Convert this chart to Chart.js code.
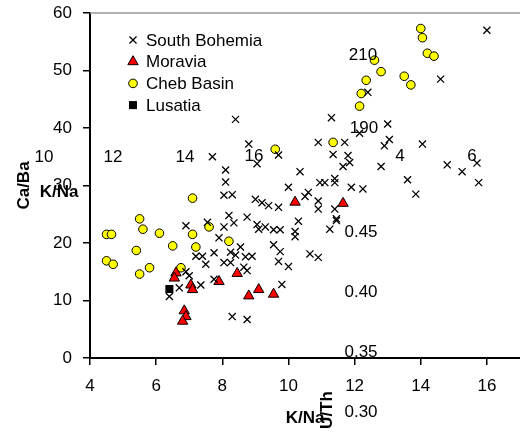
<!DOCTYPE html>
<html>
<head>
<meta charset="utf-8">
<script src="https://cdn.jsdelivr.net/npm/chart.js@4/dist/chart.umd.min.js"></script>
<style>
  body { margin: 0; background: #fff; }
  canvas { display: block; }
</style>
</head>
<body>
<canvas id="chart" width="520" height="436"></canvas>
<script>
// K/Na vs Ca/Ba, groundwater groups
const seriesNames = ['South Bohemia', 'Moravia', 'Cheb Basin', 'Lusatia'];

const southBohemiaKNa = [16.0, 14.6, 12.4, 11.3, 8.4, 13.0, 12.15, 13.05, 12.9, 10.9, 11.7, 14.05, 8.8, 11.35, 11.8, 9.7, 7.7, 11.85, 11.65, 12.8,
  14.8, 15.25, 15.7, 15.75, 13.85, 13.6, 10.35, 9.05, 8.1, 8.1, 10.0, 10.95, 11.1, 11.4, 11.4, 11.9, 12.25, 10.6, 10.5, 10.9,
  10.9, 11.4, 8.05, 8.3, 9.0, 9.2, 9.4, 9.7, 8.2, 8.35, 6.9, 7.55, 8.05, 8.75, 9.05, 9.1, 9.3, 9.55, 9.75, 10.3,
  10.2, 10.2, 11.25, 11.45, 11.45, 7.9, 9.55, 9.75, 9.7, 10.0, 10.65, 10.9, 8.55, 8.25, 8.4, 8.7, 8.9, 7.75, 7.2, 7.4,
  7.5, 8.05, 8.25, 8.65, 8.75, 6.9, 7.0, 7.75, 7.35, 6.7, 6.4, 9.8, 8.3, 8.75];
const southBohemiaCaBa = [57.0, 48.5, 46.2, 41.8, 41.5, 40.7, 39.1, 38.0, 36.9, 37.5, 37.5, 37.2, 37.2, 35.4, 35.2, 35.3, 35.0, 34.0, 33.3, 33.3,
  33.6, 32.4, 33.9, 30.5, 28.5, 31.0, 32.4, 33.8, 32.7, 30.6, 29.7, 30.5, 30.5, 30.5, 31.2, 29.7, 29.4, 28.8, 28.1, 27.3,
  25.9, 25.9, 28.3, 28.4, 27.6, 27.0, 26.5, 26.2, 24.8, 23.5, 23.0, 23.6, 22.8, 24.5, 23.2, 22.4, 22.8, 22.3, 22.3, 23.8,
  22.0, 21.1, 22.4, 24.2, 23.9, 20.9, 19.7, 18.5, 16.8, 15.9, 18.1, 17.5, 19.3, 18.4, 17.9, 17.6, 17.7, 18.3, 17.7, 17.7,
  16.3, 16.6, 16.6, 15.8, 15.2, 15.0, 14.3, 13.7, 12.7, 12.2, 10.7, 12.8, 7.2, 6.7];

const moraviaKNa = [6.6, 6.55, 7.05, 7.1, 7.9, 8.45, 8.8, 9.1, 9.55, 6.85, 6.9, 6.8, 10.2, 11.65];
const moraviaCaBa = [14.8, 13.9, 12.7, 11.9, 13.3, 14.7, 10.8, 11.9, 11.1, 8.2, 7.2, 6.4, 27.1, 26.9];

const chebKNa = [4.5, 4.7, 4.5, 4.65, 5.5, 5.6, 5.4, 5.5, 5.8, 6.1, 6.5, 6.75, 7.1, 7.2, 7.6, 8.2, 7.1, 9.6, 11.35,
  12.6, 12.8, 12.35, 12.2, 12.15, 13.5, 13.7, 14.0, 14.05, 14.2, 14.4];
const chebCaBa = [16.9, 16.3, 21.5, 21.5, 24.2, 22.4, 18.7, 14.6, 15.7, 21.7, 19.5, 15.7, 21.5, 19.3, 22.8, 20.3, 27.8, 36.3, 37.5,
  51.8, 49.8, 48.3, 46.0, 43.8, 49.0, 47.5, 57.3, 55.7, 53.0, 52.5];

const lusatiaKNa = [6.4];
const lusatiaCaBa = [12.0];

const xTicks = [4, 6, 8, 10, 12, 14, 16];

// stray labels that sit over the plot in the source figure
const strayLabels = ['10', '12', '14', '16', '4', '6', '210', '190', '0.45', '0.40', '0.35', '0.30'];
const strayPos = [[44, 157], [113, 157], [185, 157], [254, 156], [400, 156], [472, 156], [363, 55], [364, 128],
  [361, 232], [361, 292], [361, 352], [361, 412]];

const FONT = 'Liberation Sans, Arial, sans-serif';
Chart.defaults.font.family = FONT;
Chart.defaults.color = '#000';

const pts = (xs, ys) => xs.map((x, i) => ({ x, y: ys[i] }));

const styles = [
  { pointStyle: 'crossRot', radius: 5, borderColor: '#000', backgroundColor: '#000', borderWidth: 1.3 },
  { pointStyle: 'triangle', radius: 6, borderColor: '#000', backgroundColor: '#ff0000', borderWidth: 1 },
  { pointStyle: 'circle', radius: 4.3, borderColor: '#000', backgroundColor: '#ffff00', borderWidth: 1 },
  { pointStyle: 'rect', radius: 5.7, borderColor: '#000', backgroundColor: '#000', borderWidth: 0 },
];
const seriesData = [
  pts(southBohemiaKNa, southBohemiaCaBa),
  pts(moraviaKNa, moraviaCaBa),
  pts(chebKNa, chebCaBa),
  pts(lusatiaKNa, lusatiaCaBa),
];

const overlay = {
  id: 'overlay',
  beforeDatasetsDraw(chart) {
    const { ctx, chartArea: a } = chart;
    ctx.save();
    ctx.strokeStyle = '#999';
    ctx.lineWidth = 1.5;
    ctx.beginPath();
    ctx.moveTo(a.left, a.top);
    ctx.lineTo(a.right, a.top);
    ctx.stroke();
    ctx.restore();
  },
  afterDraw(chart) {
    const { ctx } = chart;
    ctx.save();
    // legend inside plot
    seriesNames.forEach((name, i) => {
      const s = styles[i];
      const y = 40 + i * 21.7;
      ctx.fillStyle = s.backgroundColor;
      ctx.strokeStyle = s.borderColor;
      ctx.lineWidth = s.borderWidth || 1;
      Chart.helpers.drawPoint(ctx, { pointStyle: s.pointStyle, radius: s.radius, rotation: 0, borderWidth: s.borderWidth }, 133, y);
      ctx.fillStyle = '#000';
      ctx.font = '17px ' + FONT;
      ctx.textAlign = 'left';
      ctx.textBaseline = 'middle';
      ctx.fillText(name, 146, y + 1);
    });
    // stray labels
    ctx.font = '17px ' + FONT;
    ctx.textAlign = 'center';
    ctx.textBaseline = 'middle';
    strayLabels.forEach((t, i) => ctx.fillText(t, strayPos[i][0], strayPos[i][1]));
    ctx.font = 'bold 17px ' + FONT;
    ctx.fillText('K/Na', 59, 192);
    ctx.translate(327, 410);
    ctx.rotate(-Math.PI / 2);
    ctx.fillText('U/Th', 0, 0);
    ctx.restore();
  }
};

new Chart(document.getElementById('chart'), {
  type: 'scatter',
  data: {
    datasets: seriesNames.map((name, i) => ({
      label: name,
      data: seriesData[i],
      pointStyle: styles[i].pointStyle,
      pointRadius: styles[i].radius,
      pointBorderColor: styles[i].borderColor,
      pointBackgroundColor: styles[i].backgroundColor,
      pointBorderWidth: styles[i].borderWidth,
    })),
  },
  options: {
    responsive: false,
    animation: false,
    layout: { autoPadding: false, padding: { top: 13, right: 0, bottom: 0, left: 0 } },
    plugins: { legend: { display: false }, tooltip: { enabled: false } },
    scales: {
      x: {
        type: 'linear',
        min: 4,
        max: 17,
        afterBuildTicks: s => { s.ticks = xTicks.map(v => ({ value: v })); },
        afterFit: s => { s.height = 78; s.paddingLeft = 0; s.paddingRight = 0; },
        ticks: { font: { size: 17 }, padding: 11, color: '#000' },
        grid: { drawOnChartArea: false, tickLength: 7, color: '#000', lineWidth: 1.5 },
        border: { color: '#000', width: 2 },
        title: { display: true, text: 'K/Na', font: { size: 17, weight: 'bold' }, padding: { top: 0, bottom: 7 } },
      },
      y: {
        min: 0,
        max: 60,
        afterFit: s => { s.width = 90; s.paddingTop = 0; s.paddingBottom = 0; },
        ticks: { stepSize: 10, font: { size: 17 }, padding: 11, color: '#000' },
        grid: { drawOnChartArea: false, tickLength: 7, color: '#000', lineWidth: 1.5 },
        border: { color: '#000', width: 2 },
        title: { display: true, text: 'Ca/Ba', font: { size: 17, weight: 'bold' }, padding: { top: 14, bottom: 0 } },
      },
    },
  },
  plugins: [overlay],
});
</script>
</body>
</html>
